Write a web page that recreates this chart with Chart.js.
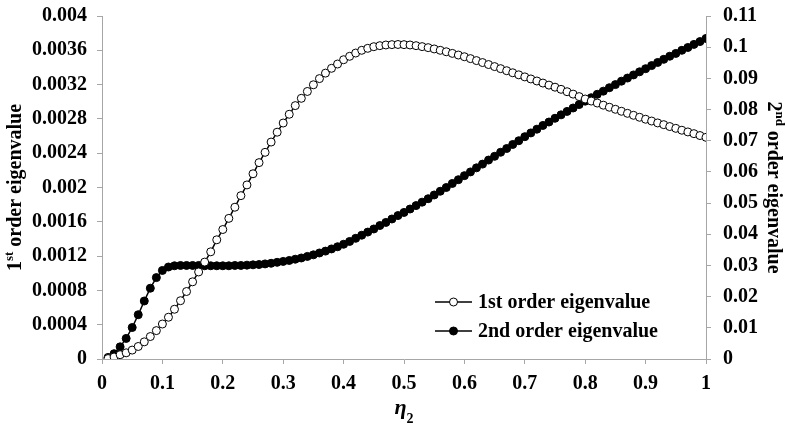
<!DOCTYPE html>
<html lang="en">
<head>
    <meta charset="UTF-8">
    <meta name="viewport" content="width=device-width, initial-scale=1.0">
    <title>Eigenvalues vs eta2</title>
    <script src="https://cdn.jsdelivr.net/npm/chart.js"></script>
    <style>
        html, body {
            margin: 0;
            padding: 0;
            background: #fff;
        }
        #chartContainer {
            width: 785px;
            height: 427px;
        }
    </style>
</head>
<body>
    <div id="chartContainer">
        <canvas id="eigenChart"></canvas>
    </div>

    <script>
        // eta_2 values (x axis)
        const eta = [
            0.01, 0.02, 0.03, 0.04, 0.05, 0.06, 0.07, 0.08, 0.09, 0.10,
            0.11, 0.12, 0.13, 0.14, 0.15, 0.16, 0.17, 0.18, 0.19, 0.20,
            0.21, 0.22, 0.23, 0.24, 0.25, 0.26, 0.27, 0.28, 0.29, 0.30,
            0.31, 0.32, 0.33, 0.34, 0.35, 0.36, 0.37, 0.38, 0.39, 0.40,
            0.41, 0.42, 0.43, 0.44, 0.45, 0.46, 0.47, 0.48, 0.49, 0.50,
            0.51, 0.52, 0.53, 0.54, 0.55, 0.56, 0.57, 0.58, 0.59, 0.60,
            0.61, 0.62, 0.63, 0.64, 0.65, 0.66, 0.67, 0.68, 0.69, 0.70,
            0.71, 0.72, 0.73, 0.74, 0.75, 0.76, 0.77, 0.78, 0.79, 0.80,
            0.81, 0.82, 0.83, 0.84, 0.85, 0.86, 0.87, 0.88, 0.89, 0.90,
            0.91, 0.92, 0.93, 0.94, 0.95, 0.96, 0.97, 0.98, 0.99, 1.00
        ];

        // 1st order eigenvalue (left axis)
        const firstOrder = [
            0.000005, 0.000023, 0.000050, 0.000072, 0.000104, 0.000146, 0.000200, 0.000262, 0.000331, 0.000408,
            0.000487, 0.000580, 0.000680, 0.000787, 0.000900, 0.001015, 0.001130, 0.001250, 0.001390, 0.001510,
            0.001640, 0.001770, 0.001905, 0.002030, 0.002160, 0.002290, 0.002410, 0.002530, 0.002645, 0.002752,
            0.002854, 0.002955, 0.003040, 0.003120, 0.003198, 0.003270, 0.003334, 0.003390, 0.003440, 0.003490,
            0.003530, 0.003568, 0.003600, 0.003623, 0.003642, 0.003654, 0.003662, 0.003666, 0.003668, 0.003666,
            0.003662, 0.003654, 0.003643, 0.003631, 0.003616, 0.003600, 0.003583, 0.003564, 0.003545, 0.003525,
            0.003503, 0.003480, 0.003457, 0.003434, 0.003410, 0.003386, 0.003362, 0.003338, 0.003314, 0.003290,
            0.003266, 0.003242, 0.003218, 0.003194, 0.003170, 0.003145, 0.003117, 0.003089, 0.003060, 0.003032,
            0.003008, 0.002985, 0.002960, 0.002936, 0.002912, 0.002889, 0.002865, 0.002842, 0.002819, 0.002796,
            0.002775, 0.002753, 0.002733, 0.002711, 0.002690, 0.002668, 0.002648, 0.002628, 0.002606, 0.002585
        ];

        // 2nd order eigenvalue (right axis)
        const secondOrder = [
            0.0005, 0.0017, 0.0039, 0.0066, 0.0101, 0.0142, 0.0186, 0.0227, 0.0261, 0.0284,
            0.0295, 0.0299, 0.0300, 0.0300, 0.0300, 0.0300, 0.0299, 0.0299, 0.0299, 0.0299,
            0.0299, 0.0300, 0.0300, 0.0301, 0.0302, 0.0303, 0.0305, 0.0307, 0.0310, 0.0313,
            0.0316, 0.0320, 0.0324, 0.0329, 0.0334, 0.0340, 0.0346, 0.0353, 0.0360, 0.0368,
            0.0377, 0.0387, 0.0397, 0.0407, 0.0417, 0.0428, 0.0438, 0.0449, 0.0460, 0.0470,
            0.0481, 0.0492, 0.0503, 0.0514, 0.0526, 0.0538, 0.0550, 0.0563, 0.0575, 0.0588,
            0.0600, 0.0613, 0.0625, 0.0638, 0.0650, 0.0663, 0.0675, 0.0688, 0.0700, 0.0713,
            0.0725, 0.0737, 0.0749, 0.0760, 0.0772, 0.0783, 0.0794, 0.0805, 0.0816, 0.0827,
            0.0838, 0.0849, 0.0859, 0.0870, 0.0880, 0.0891, 0.0901, 0.0911, 0.0921, 0.0931,
            0.0941, 0.0951, 0.0961, 0.0971, 0.0980, 0.0990, 0.0999, 0.1009, 0.1018, 0.1028
        ];

        const seriesLabels = ['1st order eigenvalue', '2nd order eigenvalue'];

        const serif = "'Liberation Serif', 'Times New Roman', serif";
        const axisGray = '#a6a6a6';

        function toPoints(values) {
            return eta.map((x, i) => ({ x: x, y: values[i] }));
        }

        function trimNum(digits) {
            return v => String(+Number(v).toFixed(digits));
        }

        // axis titles with superscript / subscript pieces
        function drawPieces(ctx, pieces, cx, cy, angle, baseOffset) {
            ctx.save();
            ctx.translate(cx, cy);
            ctx.rotate(angle);
            ctx.fillStyle = '#000';
            ctx.textAlign = 'left';
            ctx.textBaseline = 'alphabetic';
            let total = 0;
            pieces.forEach(p => {
                ctx.font = p.font;
                total += ctx.measureText(p.text).width;
            });
            let x = -total / 2;
            pieces.forEach(p => {
                ctx.font = p.font;
                ctx.fillText(p.text, x, baseOffset + p.dy);
                x += ctx.measureText(p.text).width;
            });
            ctx.restore();
        }

        const titlesPlugin = {
            id: 'axisTitles',
            afterDraw(chart) {
                const ctx = chart.ctx;
                const area = chart.chartArea;
                const midY = (area.top + area.bottom) / 2;
                const big = 'bold 20px ' + serif;
                const sup = 'bold 13px ' + serif;

                drawPieces(ctx, [
                    { text: '1', font: big, dy: 0 },
                    { text: 'st', font: sup, dy: -8 },
                    { text: ' order eigenvalue', font: big, dy: 0 }
                ], 14, midY, -Math.PI / 2, 7);

                drawPieces(ctx, [
                    { text: '2', font: big, dy: 0 },
                    { text: 'nd', font: sup, dy: -8 },
                    { text: ' order eigenvalue', font: big, dy: 0 }
                ], 775, midY, Math.PI / 2, 7);

                drawPieces(ctx, [
                    { text: 'η', font: 'italic bold 22px ' + serif, dy: 0 },
                    { text: '2', font: 'bold 14px ' + serif, dy: 9 }
                ], (area.left + area.right) / 2, 414, 0, 0);
            }
        };

        // legend with line + marker, sitting inside the plot area
        const insideLegend = {
            id: 'insideLegend',
            afterDraw(chart) {
                const ctx = chart.ctx;
                const area = chart.chartArea;
                const x0 = area.left + 333;
                const y0 = area.top + 286;
                chart.data.datasets.forEach((ds, i) => {
                    const y = y0 + i * 29;
                    ctx.save();
                    ctx.strokeStyle = ds.borderColor;
                    ctx.lineWidth = 1.5;
                    ctx.beginPath();
                    ctx.moveTo(x0, y);
                    ctx.lineTo(x0 + 37, y);
                    ctx.stroke();
                    ctx.beginPath();
                    ctx.arc(x0 + 18.5, y, 4, 0, Math.PI * 2);
                    ctx.fillStyle = ds.pointBackgroundColor;
                    ctx.fill();
                    ctx.lineWidth = 1;
                    ctx.strokeStyle = ds.pointBorderColor;
                    ctx.stroke();
                    ctx.fillStyle = '#000';
                    ctx.font = 'bold 20px ' + serif;
                    ctx.textAlign = 'left';
                    ctx.textBaseline = 'middle';
                    ctx.fillText(ds.label, x0 + 43, y + 1);
                    ctx.restore();
                });
            }
        };

        const tickFont = { family: serif, size: 20, weight: 'bold' };

        new Chart(document.getElementById('eigenChart'), {
            type: 'line',
            data: {
                datasets: [
                    {
                        label: seriesLabels[0],
                        data: toPoints(firstOrder),
                        yAxisID: 'y',
                        borderColor: '#000',
                        borderWidth: 1.5,
                        pointRadius: 4,
                        pointBorderWidth: 1,
                        pointBackgroundColor: '#fff',
                        pointBorderColor: '#000',
                        tension: 0
                    },
                    {
                        label: seriesLabels[1],
                        data: toPoints(secondOrder),
                        yAxisID: 'y2',
                        borderColor: '#000',
                        borderWidth: 1.5,
                        pointRadius: 4,
                        pointBorderWidth: 1,
                        pointBackgroundColor: '#000',
                        pointBorderColor: '#000',
                        tension: 0
                    }
                ]
            },
            options: {
                responsive: true,
                maintainAspectRatio: false,
                animation: false,
                layout: { padding: { top: 16, left: 0, right: 0, bottom: 0 } },
                plugins: {
                    legend: { display: false },
                    tooltip: { enabled: false }
                },
                scales: {
                    x: {
                        type: 'linear',
                        min: 0,
                        max: 1,
                        afterFit: s => { s.height = 68; },
                        border: { color: axisGray, width: 1 },
                        grid: { drawOnChartArea: false, color: axisGray, tickLength: 5 },
                        ticks: { stepSize: 0.1, color: '#000', font: tickFont, padding: 8, maxRotation: 0, callback: trimNum(1) }
                    },
                    y: {
                        position: 'left',
                        min: 0,
                        max: 0.004,
                        afterFit: s => { s.width = 102; s.paddingTop = 12; },
                        border: { color: axisGray, width: 1 },
                        grid: { drawOnChartArea: false, color: axisGray, tickLength: 5 },
                        ticks: { stepSize: 0.0004, color: '#000', font: tickFont, padding: 10, callback: trimNum(4) }
                    },
                    y2: {
                        position: 'right',
                        min: 0,
                        max: 0.11,
                        afterFit: s => { s.width = 79; s.paddingTop = 12; },
                        border: { color: axisGray, width: 1 },
                        grid: { drawOnChartArea: false, color: axisGray, tickLength: 5 },
                        ticks: { stepSize: 0.01, color: '#000', font: tickFont, padding: 12, callback: trimNum(2) }
                    }
                }
            },
            plugins: [titlesPlugin, insideLegend]
        });
    </script>
</body>
</html>
